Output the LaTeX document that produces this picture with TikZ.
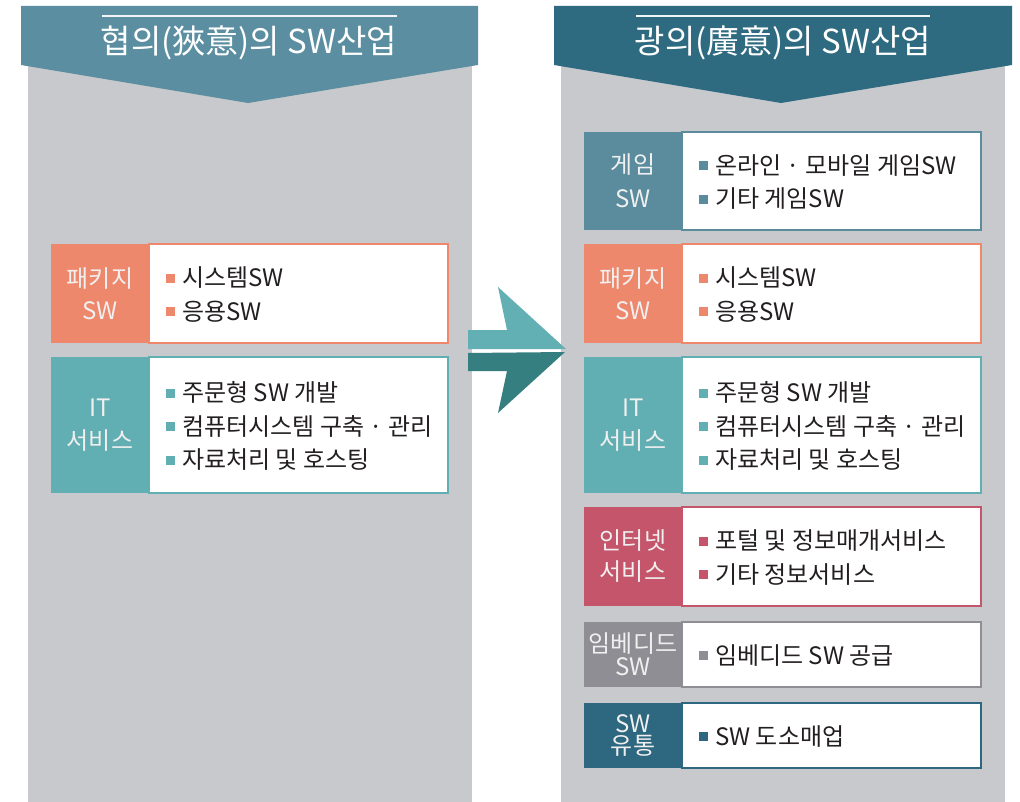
\documentclass[tikz,border=0pt]{standalone}
\usepackage{fontspec}
\setmainfont{Noto Sans CJK KR}
\definecolor{panel}{HTML}{C8C9CD}
\definecolor{hdrL}{HTML}{5B8EA0}
\definecolor{hdrR}{HTML}{2E6A80}
\definecolor{cGame}{HTML}{5A8C9E}
\definecolor{cPkg}{HTML}{EE886D}
\definecolor{cIT}{HTML}{62AFB3}
\definecolor{cNet}{HTML}{C4556A}
\definecolor{cEmb}{HTML}{8F8E94}
\definecolor{cDist}{HTML}{2D6780}
\definecolor{txt}{HTML}{231F20}
\definecolor{arrUp}{HTML}{63B0B4}
\definecolor{arrDn}{HTML}{367F80}
\newcommand\bul[1]{\textcolor{#1}{\rule[4pt]{9pt}{9pt}}\hspace{7pt}}
\tikzset{
  labbox/.style={inner sep=0pt, outer sep=0pt, minimum width=98pt, align=center, text=white!94!black},
  itembox/.style={fill=white, line width=2pt, inner sep=0pt, outer sep=0pt, minimum width=299pt},
  itemtext/.style={inner sep=0pt, align=left, text=txt, font=\fontsize{24}{33.5}\selectfont},
  title/.style={text=white, font=\fontsize{33}{36}\selectfont, inner sep=0pt},
  hline/.style={white!92!hdrL, line width=1.3pt}
}
% name, color, x, ytop, height, label, label line skip, items
\newcommand\catbox[8]{%
  \node[labbox, fill=#2, minimum height=#5, anchor=north west, font=\fontsize{24}{#7}\selectfont] (#1-lab) at (#3,#4) {#6};
  \node[itembox, draw=#2, minimum height=#5, anchor=north west] (#1-box) at (#3+98,#4) {};
  \node[itemtext, anchor=west] (#1-txt) at ([xshift=17pt, yshift=-1pt]#1-box.west) {#8};
}
\begin{document}
\begin{tikzpicture}[x=1pt,y=-1pt]
\useasboundingbox (0,0) rectangle (1020,802);
\fill[white] (0,0) rectangle (1020,802);
% panels
\fill[panel] (28,6) rectangle (472,802);
\fill[panel] (561,6) rectangle (1005,802);
% headers
\fill[hdrL] (21,6) -- (478,6) -- (478,65) -- (248,103) -- (21,65) -- cycle;
\fill[hdrR] (554,6) -- (1012,6) -- (1012,65) -- (781,103) -- (554,65) -- cycle;
\draw[hline] (102,16) -- (397,16);
\draw[hline] (636,16) -- (930,16);
\node[title] (tL) at (249,43) {협의(狹意)의 SW산업};
\node[title] (tR) at (783,43) {광의(廣意)의 SW산업};
% arrow
\fill[arrUp] (468,330) -- (507,330) -- (498,287) -- (566,349) -- (468,349) -- cycle;
\fill[arrDn] (468,353) -- (565,352) -- (498,413) -- (507,371) -- (468,371) -- cycle;
% left boxes
\catbox{lpkg}{cPkg}{51}{244}{99}{패키지\\SW}{32}{\bul{cPkg}시스템SW\\\bul{cPkg}응용SW}
\catbox{lit}{cIT}{51}{357}{136}{IT\\서비스}{33}{\bul{cIT}주문형 SW 개발\\\bul{cIT}컴퓨터시스템 구축 · 관리\\\bul{cIT}자료처리 및 호스팅}
% right boxes
\catbox{rgame}{cGame}{584}{132}{98}{게임\\SW}{34}{\bul{cGame}온라인 · 모바일 게임SW\\\bul{cGame}기타 게임SW}
\catbox{rpkg}{cPkg}{584}{244}{99}{패키지\\SW}{32}{\bul{cPkg}시스템SW\\\bul{cPkg}응용SW}
\catbox{rit}{cIT}{584}{357}{136}{IT\\서비스}{33}{\bul{cIT}주문형 SW 개발\\\bul{cIT}컴퓨터시스템 구축 · 관리\\\bul{cIT}자료처리 및 호스팅}
\catbox{rnet}{cNet}{584}{507}{99}{인터넷\\서비스}{31}{\bul{cNet}포털 및 정보매개서비스\\\bul{cNet}기타 정보서비스}
\catbox{remb}{cEmb}{584}{622}{65}{임베디드\\SW}{23}{\bul{cEmb}임베디드 SW 공급}
\catbox{rdist}{cDist}{584}{703}{65}{SW\\유통}{22}{\bul{cDist}SW 도소매업}
\end{tikzpicture}
\end{document}
